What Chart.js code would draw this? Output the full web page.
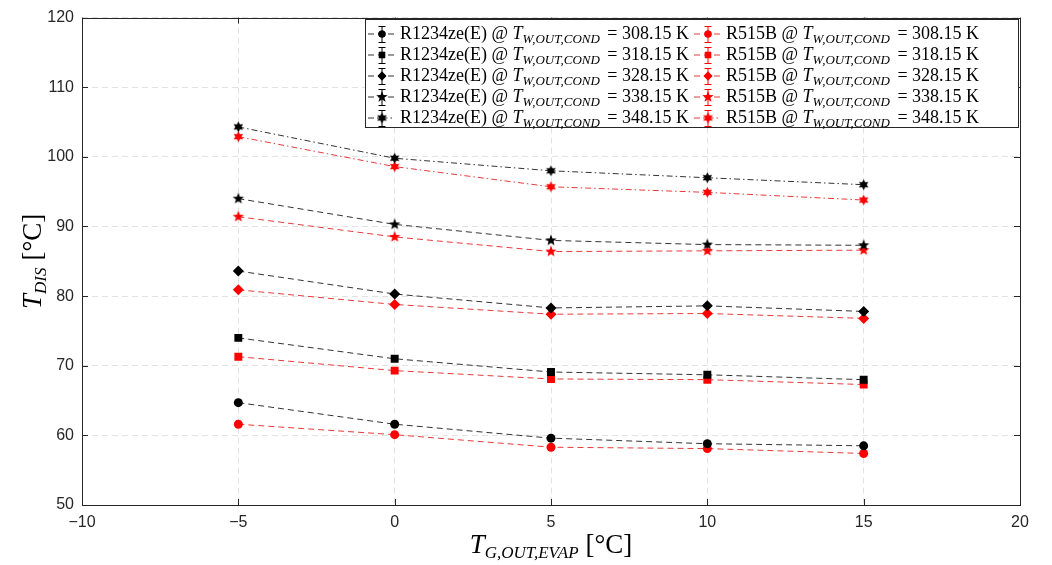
<!DOCTYPE html>
<html>
<head>
<meta charset="utf-8">
<script src="https://cdn.jsdelivr.net/npm/chart.js@4"></script>
<style>
  html, body { margin: 0; padding: 0; background: #fff; }
  #wrap { width: 1052px; height: 565px; position: relative; }
</style>
</head>
<body>
<div id="wrap"><canvas id="chart"></canvas></div>
<script>
// data
var xEvap = [-5, 0, 5, 10, 15];
var condTemps = ['308.15', '318.15', '328.15', '338.15', '348.15'];
var refrigerants = ['R1234ze(E)', 'R515B'];

var r1234_308 = [64.7, 61.6, 59.6, 58.8, 58.5];
var r1234_318 = [74.0, 71.0, 69.1, 68.7, 68.0];
var r1234_328 = [83.6, 80.3, 78.3, 78.6, 77.8];
var r1234_338 = [94.0, 90.3, 88.0, 87.4, 87.3];
var r1234_348 = [104.3, 99.8, 98.0, 97.0, 96.0];

var r515_308 = [61.6, 60.1, 58.3, 58.1, 57.4];
var r515_318 = [71.3, 69.3, 68.1, 68.0, 67.3];
var r515_328 = [80.9, 78.8, 77.4, 77.5, 76.8];
var r515_338 = [91.4, 88.5, 86.4, 86.5, 86.6];
var r515_348 = [102.9, 98.6, 95.7, 94.9, 93.8];

var xTicks = [-10, -5, 0, 5, 10, 15, 20];
var yTicks = [50, 60, 70, 80, 90, 100, 110, 120];

// star markers (matlab pentagram / hexagram)
function starMarker(n, color, r) {
  var c = document.createElement('canvas');
  var s = Math.ceil(r * 2 + 2);
  c.width = s; c.height = s;
  var g = c.getContext('2d');
  var inner = n === 5 ? r * 0.42 : r * 0.55;
  g.beginPath();
  for (var i = 0; i < n * 2; i++) {
    var a = -Math.PI / 2 + i * Math.PI / n;
    var rr = i % 2 === 0 ? r : inner;
    var px = s / 2 + rr * Math.cos(a), py = s / 2 + rr * Math.sin(a);
    if (i === 0) g.moveTo(px, py); else g.lineTo(px, py);
  }
  g.closePath();
  g.fillStyle = color;
  g.fill();
  return c;
}

var DASH = [6, 4];
var DASHDOT = [6, 3, 1.5, 3];

function markers(color) {
  return [
    { style: 'circle', radius: 4.5 },
    { style: 'rect', radius: 5.6 },
    { style: 'rectRot', radius: 5.5 },
    { style: starMarker(5, color, 6), radius: 6 },
    { style: starMarker(6, color, 5.5), radius: 6 }
  ];
}
var blackMarks = markers('#000');
var redMarks = markers('#ff0000');

var seriesBlack = [r1234_308, r1234_318, r1234_328, r1234_338, r1234_348];
var seriesRed = [r515_308, r515_318, r515_328, r515_338, r515_348];

function pts(arr) {
  return xEvap.map(function (x, i) { return { x: x, y: arr[i] }; });
}

var datasets = [];
seriesBlack.forEach(function (s, i) {
  datasets.push({
    label: refrigerants[0] + ' @ ' + condTemps[i],
    data: pts(s),
    borderColor: '#333',
    backgroundColor: '#000',
    borderWidth: 1,
    borderDash: i === 4 ? DASHDOT : DASH,
    pointStyle: blackMarks[i].style,
    pointRadius: blackMarks[i].radius,
    pointBorderWidth: 0,
    pointBackgroundColor: '#000',
    _mark: blackMarks[i], _color: '#000', _line: '#333', _dash: i === 4 ? DASHDOT : DASH, _ref: 0, _cond: i
  });
});
seriesRed.forEach(function (s, i) {
  datasets.push({
    label: refrigerants[1] + ' @ ' + condTemps[i],
    data: pts(s),
    borderColor: '#e83a3a',
    backgroundColor: '#ff0000',
    borderWidth: 1,
    borderDash: i === 4 ? DASHDOT : DASH,
    pointStyle: redMarks[i].style,
    pointRadius: redMarks[i].radius,
    pointBorderWidth: 0,
    pointBackgroundColor: '#ff0000',
    _mark: redMarks[i], _color: '#ff0000', _line: '#e83a3a', _dash: i === 4 ? DASHDOT : DASH, _ref: 1, _cond: i
  });
});

var SERIF = '"Liberation Serif", "DejaVu Serif", serif';

// draws a run of text parts, returns width
function richText(ctx, parts, x, y, measureOnly) {
  var cx = x;
  parts.forEach(function (p) {
    ctx.font = (p.italic ? 'italic ' : '') + p.size + 'px ' + SERIF;
    var w = ctx.measureText(p.t).width;
    if (!measureOnly) ctx.fillText(p.t, cx, y + (p.dy || 0));
    cx += w + (p.after || 0);
  });
  return cx - x;
}

var decorPlugin = {
  id: 'decor',
  afterDraw: function (chart) {
    var ctx = chart.ctx, a = chart.chartArea;
    var xs = chart.scales.x, ys = chart.scales.y;
    ctx.save();
    // box
    ctx.strokeStyle = '#262626';
    ctx.lineWidth = 1;
    ctx.setLineDash([]);
    ctx.strokeRect(Math.round(a.left) + 0.5, Math.round(a.top) + 0.5, Math.round(a.right - a.left), Math.round(a.bottom - a.top));
    // inward ticks
    ctx.beginPath();
    xTicks.forEach(function (v) {
      var px = Math.round(xs.getPixelForValue(v)) + 0.5;
      ctx.moveTo(px, a.bottom); ctx.lineTo(px, a.bottom - 6);
      ctx.moveTo(px, a.top); ctx.lineTo(px, a.top + 6);
    });
    yTicks.forEach(function (v) {
      var py = Math.round(ys.getPixelForValue(v)) + 0.5;
      ctx.moveTo(a.left, py); ctx.lineTo(a.left + 6, py);
      ctx.moveTo(a.right, py); ctx.lineTo(a.right - 6, py);
    });
    ctx.stroke();

    // axis titles
    ctx.fillStyle = '#000';
    ctx.textBaseline = 'alphabetic';
    var xt = [
      { t: 'T', italic: true, size: 27 },
      { t: 'G,OUT,EVAP', italic: true, size: 17, dy: 5, after: 7 },
      { t: '[°C]', size: 27 }
    ];
    var w = richText(ctx, xt, 0, 0, true);
    richText(ctx, xt, (a.left + a.right) / 2 - w / 2, 553);

    var yt = [
      { t: 'T', italic: true, size: 27 },
      { t: 'DIS', italic: true, size: 17, dy: 5, after: 7 },
      { t: '[°C]', size: 27 }
    ];
    ctx.save();
    ctx.translate(41, (a.top + a.bottom) / 2);
    ctx.rotate(-Math.PI / 2);
    w = richText(ctx, yt, 0, 0, true);
    richText(ctx, yt, -w / 2, 0);
    ctx.restore();

    // legend
    var bx = 365, by = 19, bw = 653, bh = 108;
    ctx.fillStyle = '#fff';
    ctx.fillRect(bx, by, bw, bh);
    ctx.strokeStyle = '#262626';
    ctx.strokeRect(bx + 0.5, by + 0.5, bw, bh);
    var colX = [368, 694];
    chart.data.datasets.forEach(function (ds) {
      var x0 = colX[ds._ref];
      var yy = 34 + ds._cond * 21;
      ctx.strokeStyle = ds._line;
      ctx.lineWidth = 1;
      ctx.setLineDash(ds._dash);
      ctx.beginPath();
      ctx.moveTo(x0, yy); ctx.lineTo(x0 + 27, yy);
      ctx.stroke();
      ctx.setLineDash([]);
      // error bar
      var mx = x0 + 13.5;
      ctx.strokeStyle = ds._color;
      ctx.beginPath();
      ctx.moveTo(mx + 0.5, yy - 8); ctx.lineTo(mx + 0.5, yy + 8);
      ctx.moveTo(mx - 3, yy - 8 + 0.5); ctx.lineTo(mx + 4, yy - 8 + 0.5);
      ctx.moveTo(mx - 3, yy + 8 + 0.5); ctx.lineTo(mx + 4, yy + 8 + 0.5);
      ctx.stroke();
      ctx.fillStyle = ds._color;
      Chart.helpers.drawPoint(ctx, { pointStyle: ds._mark.style, radius: ds._mark.radius * 0.8, borderWidth: 0, rotation: 0 }, mx + 0.5, yy);
      ctx.fill();
      ctx.fillStyle = '#000';
      var parts = [
        { t: refrigerants[ds._ref] + ' @ ', size: 18 },
        { t: 'T', italic: true, size: 18 },
        { t: 'W,OUT,COND', italic: true, size: 13, dy: 4, after: 3 },
        { t: ' = ' + condTemps[ds._cond] + ' K', size: 18 }
      ];
      richText(ctx, parts, x0 + 32, yy + 5);
    });
    ctx.restore();
  }
};

var tickFont = { family: '"Liberation Sans", Arial, sans-serif', size: 16 };

new Chart(document.getElementById('chart').getContext('2d'), {
  type: 'line',
  data: { datasets: datasets },
  options: {
    responsive: true,
    maintainAspectRatio: false,
    animation: false,
    layout: { padding: { top: 16, right: 32, left: 0, bottom: 0 } },
    plugins: { legend: { display: false }, tooltip: { enabled: false } },
    scales: {
      x: {
        type: 'linear', min: -10, max: 20,
        afterBuildTicks: function (s) { s.ticks = xTicks.map(function (v) { return { value: v }; }); },
        ticks: { font: tickFont, color: '#262626', padding: 8, maxRotation: 0,
          callback: function (v) { return v < 0 ? '\u2212' + Math.abs(v) : String(v); } },
        grid: { color: '#e2e2e2', drawTicks: false, lineWidth: 1 },
        border: { display: false, dash: [6, 4] },
        afterFit: function (s) { s.height = 60; }
      },
      y: {
        type: 'linear', min: 50, max: 120,
        afterBuildTicks: function (s) { s.ticks = yTicks.map(function (v) { return { value: v }; }); },
        ticks: { font: tickFont, color: '#262626', padding: 8 },
        grid: { color: '#e2e2e2', drawTicks: false, lineWidth: 1 },
        border: { display: false, dash: [6, 4] },
        afterFit: function (s) { s.width = 82; }
      }
    }
  },
  plugins: [decorPlugin]
});
</script>
</body>
</html>
